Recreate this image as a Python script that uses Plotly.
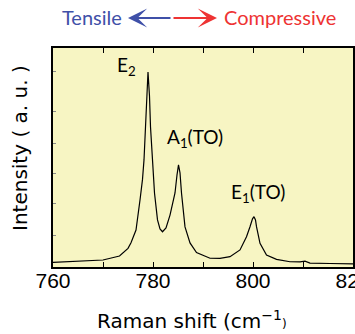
import plotly.graph_objects as go

# Raman spectrum
raman_shift = [760, 765, 770, 773.3, 775.0, 775.6, 776.6, 777.4, 777.9, 778.2, 778.6, 779.0, 779.3, 779.5, 779.9,
               780.3, 780.9, 781.4, 781.9, 782.6, 783.4, 784.0, 784.4, 784.8, 785.1, 785.4, 785.7,
               786.4, 787.4, 788.7, 789.4, 791.4, 793.4, 795.4, 797.4, 798.7, 799.4, 799.9,
               800.2, 800.5, 800.7, 801.4, 802.7, 804.7, 807.4, 809.4, 810.4, 811.4, 815.4, 820.2]
intensity = [0.021, 0.025, 0.032, 0.050, 0.085, 0.111, 0.169, 0.306, 0.40, 0.489, 0.67, 0.89, 0.78, 0.64, 0.489,
             0.338, 0.215, 0.174, 0.161, 0.178, 0.237, 0.306, 0.338, 0.42, 0.466, 0.43, 0.338,
             0.183, 0.110, 0.066, 0.060, 0.040, 0.039, 0.047, 0.078, 0.138, 0.184, 0.22,
             0.230, 0.215, 0.184, 0.108, 0.055, 0.035, 0.024, 0.023, 0.027, 0.018, 0.016, 0.014]

x_tickvals = [760, 770, 780, 790, 800, 810, 820]
x_ticktext = ["760", "", "780", "", "800", "", "820"]
y_tickvals = [0.146, 0.292, 0.429, 0.566, 0.712, 0.892]

peak_labels = ["E<sub>2</sub>", "A<sub>1</sub>(TO)", "E<sub>1</sub>(TO)"]
peak_label_x = [774.6, 788.3, 801.0]
peak_label_y = [0.92, 0.59, 0.34]

fig = go.Figure()
fig.add_trace(go.Scatter(x=raman_shift, y=intensity, mode="lines",
                         line=dict(color="black", width=1.2),
                         hoverinfo="skip"))

annotations = []
for t, xx, yy in zip(peak_labels, peak_label_x, peak_label_y):
    annotations.append(dict(x=xx, y=yy, xref="x", yref="y", text=t, showarrow=False,
                            xanchor="center", yanchor="middle",
                            font=dict(family="Lato", size=19, color="black")))

blue = "#3f50a8"
red = "#ee3333"
def px(xp):
    return (xp - 53) / 300
def py(yp):
    return (267 - yp) / 219

annotations += [
    dict(x=px(92), y=py(17), xref="paper", yref="paper", text="Tensile",
         xanchor="center", yanchor="middle",
         showarrow=False, font=dict(family="Lato", size=20, color=blue)),
    dict(x=px(280), y=py(17), xref="paper", yref="paper", text="Compressive",
         xanchor="center", yanchor="middle",
         showarrow=False, font=dict(family="Lato", size=20, color=red)),
    dict(x=px(128), y=py(18), xref="paper", yref="paper", text="",
         showarrow=True, arrowhead=3, arrowsize=1.6, arrowwidth=2, arrowcolor=blue,
         ax=44, ay=0, axref="pixel", ayref="pixel"),
    dict(x=px(217), y=py(18), xref="paper", yref="paper", text="",
         showarrow=True, arrowhead=3, arrowsize=1.6, arrowwidth=2, arrowcolor=red,
         ax=-45, ay=0, axref="pixel", ayref="pixel"),
    dict(x=px(20), y=py(148), xref="paper", yref="paper",
         xanchor="center", yanchor="middle",
         text="Intensity ( a. u. )", textangle=-90, showarrow=False,
         font=dict(family="DejaVu Sans", size=20, color="black")),
    dict(x=px(192), y=py(320), xref="paper", yref="paper",
         xanchor="center", yanchor="middle",
         text="Raman shift (cm<sup>−1</sup><span style='font-size:12px'>)</span>", showarrow=False,
         font=dict(family="DejaVu Sans", size=20, color="black")),
]

fig.update_layout(
    width=355, height=334,
    margin=dict(l=53, r=2, t=48, b=67),
    paper_bgcolor="white", plot_bgcolor="#f7f5c3",
    showlegend=False,
    annotations=annotations,
    xaxis=dict(range=[760, 820], tickvals=x_tickvals, ticktext=x_ticktext,
               ticks="inside", ticklen=5, tickwidth=1, tickcolor="black",
               showline=True, linecolor="black", linewidth=1.5, mirror="allticks",
               showgrid=False, zeroline=False, ticklabeloverflow="allow",
               ticklabelstandoff=-6, automargin=False,
               tickfont=dict(family="Liberation Sans", size=21, color="black")),
    yaxis=dict(range=[0, 1], tickvals=y_tickvals, ticktext=[""] * len(y_tickvals),
               ticks="inside", ticklen=3, tickwidth=1, tickcolor="#888888",
               showline=True, linecolor="black", linewidth=1.5, mirror=True,
               showgrid=False, zeroline=False, showticklabels=True, automargin=False),
)

fig.write_html("out.html")
